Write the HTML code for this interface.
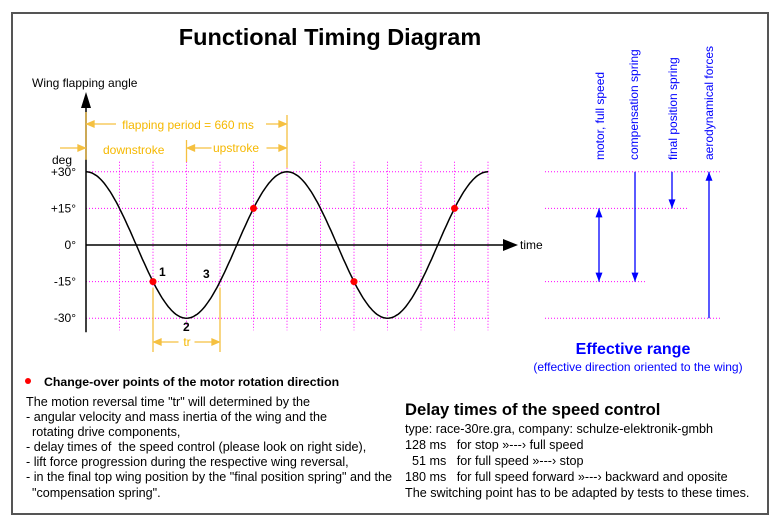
<!DOCTYPE html>
<html><head><meta charset="utf-8"><style>
body{margin:0;background:#fff;width:783px;height:527px;overflow:hidden}
svg text{font-family:"Liberation Sans",Arial,sans-serif;white-space:pre}
</style></head><body>
<svg id="chart" width="783" height="527" xmlns="http://www.w3.org/2000/svg">
<rect x="12" y="13" width="756" height="501" fill="#fff" stroke="#555" stroke-width="2"/>
<text x="330" y="45" font-size="23.5" font-weight="bold" text-anchor="middle">Functional Timing Diagram</text>
<text x="32" y="87" font-size="12">Wing flapping angle</text>
<g id="grid"></g>
<g id="axes"></g>
<path id="curve" fill="none" stroke="#000" stroke-width="1.5"/>
<g id="dots"></g>
<g id="orange" stroke="#f5c040" fill="#f5c040" stroke-width="1.3"></g>
<g font-size="12" fill="#f5b800">
<text x="188" y="129" text-anchor="middle" stroke="none" fill="#f5b800">flapping period = 660 ms</text>
<text x="103" y="154" fill="#f5b800">downstroke</text>
<text x="213" y="152" fill="#f5b800">upstroke</text>
<text x="187" y="346" text-anchor="middle" fill="#f5b800">tr</text>
</g>
<g font-size="12" font-weight="bold">
<text x="159" y="276">1</text>
<text x="183" y="331">2</text>
<text x="203" y="278">3</text>
</g>
<g id="right"></g>
<g fill="#00f" font-size="12">
<text transform="translate(604,160) rotate(-90)">motor, full speed</text>
<text transform="translate(638,160) rotate(-90)">compensation spring</text>
<text transform="translate(677,160) rotate(-90)">final position spring</text>
<text transform="translate(713,160) rotate(-90)">aerodynamical forces</text>
<text x="633" y="354" font-size="16" font-weight="bold" text-anchor="middle">Effective range</text>
<text x="638" y="371" text-anchor="middle">(effective direction oriented to the wing)</text>
</g>
<circle cx="28" cy="381" r="3" fill="#f00"/>
<text x="44" y="386" font-size="12.3" font-weight="bold">Change-over points of the motor rotation direction</text>
<g font-size="12.6">
<text x="26" y="406">The motion reversal time "tr" will determined by the</text>
<text x="26" y="421">- angular velocity and mass inertia of the wing and the</text>
<text x="32" y="436">rotating drive components,</text>
<text x="26" y="451">- delay times of  the speed control (please look on right side),</text>
<text x="26" y="466">- lift force progression during the respective wing reversal,</text>
<text x="26" y="481">- in the final top wing position by the "final position spring" and the</text>
<text x="32" y="497">"compensation spring".</text>
</g>
<text x="405" y="415" font-size="16.6" font-weight="bold">Delay times of the speed control</text>
<g font-size="12.6">
<text x="405" y="433">type: race-30re.gra, company: schulze-elektronik-gmbh</text>
<text x="405" y="449">128 ms   for stop »---› full speed</text>
<text x="405" y="465">  51 ms   for full speed »---› stop</text>
<text x="405" y="481">180 ms   for full speed forward »---› backward and oposite</text>
<text x="405" y="497">The switching point has to be adapted by tests to these times.</text>
</g>
</svg>
<script>
const yTicks=[30,15,0,-15,-30];
const yTickLabels=["+30°","+15°","0°","-15°","-30°"];
const period=660;
const amplitude=30;
const tMax=1320;
const gridTimes=[110,220,330,440,550,660,770,880,990,1100,1210,1320];
const changeTimes=[220,550,880,1210];
const NS="http://www.w3.org/2000/svg";
const x0=86,pxPerMs=201/660,y0=245,pxPerDeg=36.6/15;
const X=t=>x0+t*pxPerMs, Y=d=>y0-d*pxPerDeg;
const val=t=>amplitude*Math.cos(2*Math.PI*t/period);
function mk(tag,attrs,parent){const e=document.createElementNS(NS,tag);for(const k in attrs)e.setAttribute(k,attrs[k]);parent.appendChild(e);return e;}
const grid=document.getElementById('grid'),axes=document.getElementById('axes');
yTicks.forEach((d,i)=>{
 if(d!==0){const l=mk('line',{x1:x0,x2:X(tMax)+2,y1:Y(d),y2:Y(d),stroke:'#f0f',"stroke-width":1,"stroke-dasharray":"1,2"},grid);
 
 }
 const t=mk('text',{x:76,y:Y(d)+4,"font-size":12,"text-anchor":"end"},axes);t.textContent=yTickLabels[i];
 
 
});
gridTimes.forEach(t=>{const l=mk('line',{x1:X(t),x2:X(t),y1:Y(30)-10,y2:Y(-30)+12,stroke:'#f0f',"stroke-width":1,"stroke-dasharray":"1,2"},grid);
 
 });
const dg=mk('text',{x:52,y:164,"font-size":12},axes);dg.textContent='deg';


mk('line',{x1:x0,x2:x0,y1:100,y2:Y(-30)+14,stroke:'#000',"stroke-width":1.5},axes);
mk('path',{d:`M${x0-5},108 L${x0},92 L${x0+5},108 Z`,fill:'#000'},axes);
mk('line',{x1:x0,x2:505,y1:y0,y2:y0,stroke:'#000',"stroke-width":1.5},axes);
mk('path',{d:`M503,239 L518,245 L503,251 Z`,fill:'#000'},axes);
const tt=mk('text',{x:520,y:249,"font-size":12},axes);tt.textContent='time';


let d='';for(let t=0;t<=tMax;t+=5)d+=(t?'L':'M')+X(t).toFixed(1)+','+Y(val(t)).toFixed(1);
document.getElementById('curve').setAttribute('d',d);
const dots=document.getElementById('dots');
changeTimes.forEach(t=>{const c=mk('circle',{cx:X(t),cy:Y(val(t)),r:3.5,fill:'#f00'},dots);
 
 });
const o=document.getElementById('orange');
function arrow(xa,xb,y){mk('line',{x1:xa,x2:xb,y1:y,y2:y},o);
 mk('path',{d:`M${xa},${y} l7,-3 v6 Z`},o);mk('path',{d:`M${xb},${y} l-7,-3 v6 Z`},o);}
mk('line',{x1:X(0),x2:X(0),y1:112,y2:Y(30)-12},o);
mk('line',{x1:X(660),x2:X(660),y1:115,y2:Y(30)-4},o);
mk('line',{x1:X(330),x2:X(330),y1:140,y2:162},o);
arrow(X(0)+1,X(660)-1,124);
mk('rect',{x:X(0)+30,y:116,width:150,height:16,fill:'#fff',stroke:'none'},o);
mk('line',{x1:60,x2:X(0)-1,y1:148,y2:148},o);mk('path',{d:`M${X(0)-1},148 l-7,-3 v6 Z`},o);
arrow(X(330)+1,X(660)-1,148);
mk('rect',{x:X(330)+25,y:140,width:55,height:16,fill:'#fff',stroke:'none'},o);
mk('line',{x1:X(220),x2:X(220),y1:Y(-15)+6,y2:352},o);
mk('line',{x1:X(440),x2:X(440),y1:Y(-15)+6,y2:352},o);
arrow(X(220)+1,X(440)-1,342);
mk('rect',{x:X(330)-8,y:334,width:16,height:14,fill:'#fff',stroke:'none'},o);
const r=document.getElementById('right');
[[30,545,720],[15,545,687],[-15,545,645],[-30,545,720]].forEach(([v,a,b])=>{const l=mk('line',{x1:a,x2:b,y1:Y(v),y2:Y(v),stroke:'#f0f',"stroke-dasharray":"1,2"},r);
 
 });
function varr(x,ya,yb,both){mk('line',{x1:x,x2:x,y1:ya,y2:yb,stroke:'#00f',"stroke-width":1.3},r);
 const s=yb>ya?1:-1;mk('path',{d:`M${x},${yb} l-3.5,${-9*s} h7 Z`,fill:'#00f'},r);
 if(both)mk('path',{d:`M${x},${ya} l-3.5,${9*s} h7 Z`,fill:'#00f'},r);}
varr(599,Y(15),Y(-15),true);
varr(635,Y(30),Y(-15),false);
varr(672,Y(30),Y(15),false);
varr(709,Y(-30),Y(30),false);
</script>
</body></html>
